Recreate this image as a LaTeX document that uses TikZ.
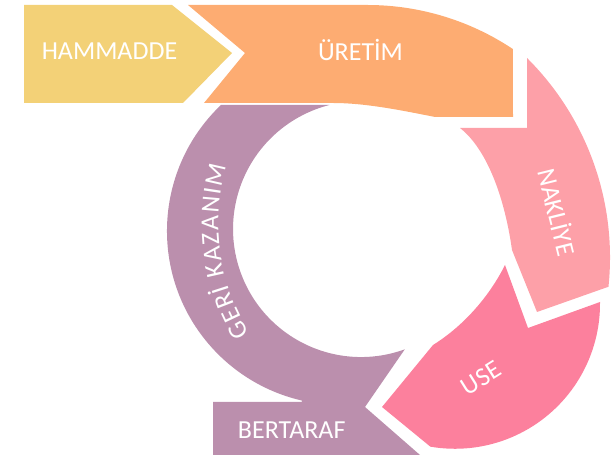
\documentclass[tikz,border=0pt]{standalone}
\usepackage{fontspec}
\setmainfont{Carlito}
\usetikzlibrary{decorations.text}
\definecolor{cYellow}{HTML}{F3D177}
\definecolor{cOrange}{HTML}{FDAC72}
\definecolor{cLightPink}{HTML}{FDA0A8}
\definecolor{cPink}{HTML}{FC809D}
\definecolor{cPurple}{HTML}{BB8FAD}
\begin{document}
\begin{tikzpicture}[x=1pt,y=1pt,
  lbl/.style={text=white, font=\fontsize{26}{30}\selectfont, inner sep=0pt}]
\useasboundingbox (0,0) rectangle (613,455);

% raw material chevron
\fill[cYellow] (24,450) -- (172,450) -- (232,402) -- (183,352) -- (24,352) -- cycle;

% production band
\fill[cOrange] (188,450) -- (367.5,450) arc[start angle=90, end angle=56.3, radius=262]
  -- (513,338) -- (435,338) .. controls (400,345) and (365,352) .. (333,352)
  -- (204,352) -- (245,402) -- cycle;

% transport segment
\fill[cLightPink] (460,327) -- (527,327) -- (527,397)
  arc[start angle=45.2, end angle=-6, radius=281]
  -- (537,143) -- (512,205) .. controls (505,255) and (488,305) .. (460,327) -- cycle;

% use segment
\fill[cPink] (505,190) -- (528,127) -- (600,153)
  arc[start angle=0.7, end angle=-99.8, radius=145]
  -- (382,48) -- (433,110) .. controls (465,130) and (490,160) .. (505,190) -- cycle;

% recovery ring ending in the disposal box
\fill[cPurple] (221.2,350.2) arc[start angle=133.5, end angle=257, radius=174]
  |- (213,53) -- (213,0) -- (420,0) -- (365,48) -- (404.8,105.7)
  arc[start angle=290, end angle=104.3, radius=128] -- cycle;

% labels
\node[lbl, anchor=base] (hammadde) at (109.5,395) {HAMMADDE};
\node[lbl, anchor=base] (uretim) at (360.5,394.5) {ÜRETİM};
\node[lbl, rotate=-76] (nakliye) at (558,243) {NAKLİYE};
\node[lbl, rotate=32] (use) at (481,77) {USE};
\node[lbl, anchor=base] (bertaraf) at (291.7,16.7) {BERTARAF};

% curved label on the recovery ring
\coordinate (Ct) at (426.4,231.8);
\path[decorate, decoration={text along path, text align={fit to path}, text color=white,
    text={|\fontsize{26}{30}\selectfont|GERİ KAZANIM}}]
  ([shift={(212:208)}]Ct) arc[start angle=212, end angle=164, radius=208];
\end{tikzpicture}
\end{document}
